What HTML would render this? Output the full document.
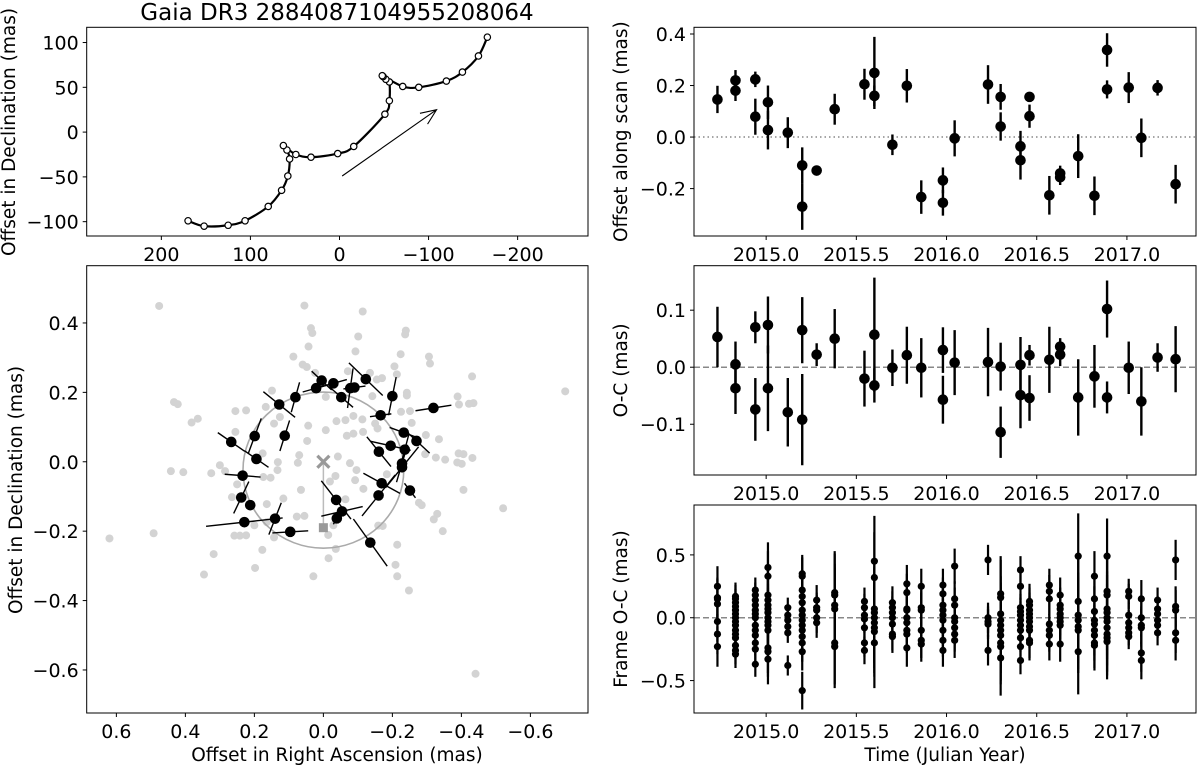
<!DOCTYPE html>
<html><head><meta charset="utf-8"><style>
html,body{margin:0;padding:0;background:#fff;}
svg{display:block;font-family:"DejaVu Sans","Liberation Sans",sans-serif;}
</style></head><body>
<svg id="fig" width="1200" height="766" viewBox="0 0 1200 766" xmlns="http://www.w3.org/2000/svg"></svg>
<script>
// ---------- data: top-left (proper motion + parallax track, mas) ----------
const trackRA  = [170,152,125,106,80,65,58,56,59,63,49,32,2,-16,-51,-56,-56,-52,-49,-48,-71,-89,-120,-138,-156,-166];
const trackDec = [-99,-105,-104,-99,-83,-65,-49,-30,-20,-15,-25,-28,-24,-16,20,35,56,59,62,63,51,50,57,67,85,106];
const arrowRA = [-3,-109];
const arrowDec = [-49,25];
const tlXTicks = [200,100,0,-100,-200];
const tlYTicks = [100,50,0,-50,-100];

// ---------- data: bottom-left (sky plane, mas) ----------
const bgRA  = [0.476,0.055,-0.114,0.036,0.032,-0.239,-0.237,-0.101,0.043,-0.093,-0.224,0.087,-0.306,-0.309,0.060,0.048,-0.206,-0.071,0.024,-0.135,-0.155,-0.170,-0.431,-0.213,0.149,-0.007,-0.142,-0.242,-0.242,-0.389,0.433,0.422,-0.393,-0.422,-0.435,0.167,0.255,0.224,-0.225,-0.251,-0.087,-0.064,-0.113,0.364,0.382,0.126,0.143,0.044,-0.038,-0.150,-0.157,-0.256,-0.007,-0.087,-0.068,-0.115,-0.297,-0.335,0.047,0.255,-0.295,-0.326,-0.353,-0.392,-0.406,-0.432,-0.388,-0.401,0.070,0.074,-0.042,-0.077,0.176,0.132,0.133,0.300,0.285,0.442,0.406,0.325,0.174,0.153,-0.096,-0.035,-0.092,-0.184,-0.019,0.065,-0.116,-0.406,0.250,0.265,0.164,0.116,-0.064,-0.277,-0.285,-0.521,0.077,0.055,-0.330,-0.320,0.200,0.164,-0.029,-0.014,-0.159,-0.172,-0.346,0.258,0.242,0.224,0.143,0.492,0.620,-0.214,-0.036,0.177,-0.015,0.318,-0.209,0.198,0.346,0.029,-0.214,-0.248,-0.441,-0.701];
const bgDec = [0.449,0.450,0.433,0.385,0.371,0.378,0.367,0.361,0.332,0.318,0.310,0.303,0.303,0.283,0.280,0.273,0.275,0.261,0.256,0.256,0.237,0.241,0.246,0.252,0.205,0.187,0.189,0.199,0.191,0.188,0.172,0.166,0.165,0.167,0.169,0.158,0.146,0.148,0.144,0.146,0.132,0.120,0.122,0.124,0.113,0.129,0.110,0.104,0.117,0.110,0.096,0.112,0.091,0.081,0.075,0.086,0.077,0.065,0.060,0.086,0.022,0.012,0.006,0.024,0.022,0.011,-0.002,-0.006,0.019,-0.003,0.015,-0.004,0.024,-0.001,-0.024,-0.010,-0.027,-0.027,-0.030,-0.033,-0.044,-0.046,-0.024,-0.041,-0.053,-0.036,-0.057,-0.081,-0.078,-0.081,-0.065,-0.102,-0.122,-0.106,-0.108,-0.118,-0.125,-0.134,-0.158,-0.156,-0.150,-0.166,-0.183,-0.174,-0.183,-0.211,-0.184,-0.185,-0.200,-0.213,-0.213,-0.212,-0.218,-0.206,-0.221,-0.239,-0.251,-0.254,-0.278,-0.266,-0.297,-0.306,-0.325,-0.330,-0.330,-0.371,-0.611,0.203];
const obsRA  = [0.267,0.194,0.199,0.234,0.238,0.212,0.229,0.140,0.096,0.128,0.112,0.081,0.021,0.005,-0.029,-0.052,-0.078,-0.090,-0.123,-0.200,-0.166,-0.319,-0.233,-0.270,-0.195,-0.161,-0.236,-0.228,-0.228,-0.251,-0.169,-0.160,-0.037,-0.054,-0.039,-0.136];
const obsDec = [0.057,0.008,0.074,-0.040,-0.103,-0.125,-0.174,-0.164,-0.202,0.165,0.075,0.186,0.212,0.234,0.226,0.186,0.212,0.214,0.238,0.189,0.134,0.155,0.084,0.060,0.046,0.029,0.035,-0.005,-0.016,-0.083,-0.062,-0.097,-0.110,-0.143,-0.163,-0.233];
const obsErrRA  = [0.039,0.035,0.019,0.052,0.022,0.010,0.111,0.018,0.052,0.046,0.014,0.012,0.039,0.029,0.039,0.034,0.008,0.032,0.049,0.011,0.031,0.052,0.041,0.038,0.058,0.035,0.012,0.016,0.048,0.016,0.053,0.048,0.043,0.060,0.010,0.049];
const obsErrDec = [0.027,0.024,-0.051,0.004,-0.046,-0.010,-0.012,-0.046,-0.003,0.037,-0.044,-0.043,-0.011,0.027,-0.011,0.029,-0.057,-0.004,0.047,-0.055,-0.004,-0.008,0.015,0.035,0.013,0.043,-0.045,-0.054,-0.059,0.021,0.029,-0.059,0.055,-0.014,-0.017,0.068];
const orbitCenter = [0.0, -0.024];
const orbitRadius = [0.233, 0.225];
const refPoint = [0.0, -0.19];
const blTicks = [0.6,0.4,0.2,0.0,-0.2,-0.4,-0.6];
const blYTicks = [0.4,0.2,0.0,-0.2,-0.4,-0.6];

// ---------- data: top-right (along-scan offsets) ----------
const scanYear = [2014.73,2014.83,2014.83,2014.94,2014.94,2015.01,2015.01,2015.12,2015.20,2015.20,2015.28,2015.38,2015.545,2015.60,2015.60,2015.70,2015.78,2015.86,2015.98,2015.98,2016.045,2016.23,2016.30,2016.30,2016.41,2016.41,2016.46,2016.46,2016.57,2016.63,2016.63,2016.73,2016.82,2016.89,2016.89,2017.01,2017.08,2017.17,2017.27];
const scanVal = [0.146,0.22,0.18,0.224,0.079,0.135,0.027,0.017,-0.11,-0.27,-0.13,0.108,0.205,0.249,0.16,-0.03,0.199,-0.233,-0.168,-0.255,-0.005,0.204,0.156,0.041,-0.036,-0.09,0.156,0.081,-0.226,-0.141,-0.156,-0.074,-0.228,0.338,0.185,0.192,-0.003,0.191,-0.183];
const scanErr = [0.053,0.04,0.04,0.03,0.07,0.065,0.075,0.06,0.07,0.09,0.015,0.06,0.06,0.14,0.04,0.04,0.065,0.065,0.05,0.05,0.07,0.075,0.05,0.055,0.06,0.075,0.015,0.045,0.075,0.03,0.03,0.085,0.075,0.065,0.035,0.06,0.075,0.03,0.075];
const yearTicks = [2015.0,2015.5,2016.0,2016.5,2017.0];
const scanYTicks = [0.4,0.2,0.0,-0.2];

// ---------- data: middle-right (O-C) ----------
const ocVal = [0.053,0.005,-0.037,0.070,-0.074,0.074,-0.037,-0.079,0.065,-0.092,0.022,0.050,-0.020,0.057,-0.032,-0.001,0.021,-0.001,0.030,-0.057,0.008,0.009,0.001,-0.114,0.004,-0.049,0.021,-0.054,0.013,0.036,0.022,-0.053,-0.016,0.102,-0.053,-0.001,-0.060,0.017,0.014];
const ocErr = [0.053,0.04,0.045,0.028,0.055,0.05,0.075,0.06,0.058,0.08,0.02,0.052,0.049,0.10,0.03,0.032,0.05,0.052,0.04,0.042,0.057,0.06,0.042,0.045,0.049,0.058,0.018,0.04,0.058,0.015,0.02,0.067,0.055,0.05,0.028,0.046,0.06,0.025,0.058];
const ocYTicks = [0.1,0.0,-0.1];

// ---------- data: bottom-right (frame O-C) ----------
const frameYear = [2014.73,2014.83,2014.94,2015.01,2015.12,2015.20,2015.28,2015.38,2015.545,2015.60,2015.70,2015.78,2015.86,2015.98,2016.045,2016.23,2016.30,2016.41,2016.46,2016.57,2016.63,2016.73,2016.82,2016.89,2017.01,2017.08,2017.17,2017.27];
const frameVals = [
 [0.25,0.16,0.15,0.11,-0.03,-0.13,-0.23],
 [0.17,0.15,0.12,0.09,0.06,0.03,0.0,-0.03,-0.06,-0.1,-0.13,-0.16,-0.22,-0.26,-0.29],
 [0.22,0.18,0.14,0.1,0.06,0.03,0.0,-0.06,-0.1,-0.14,-0.2,-0.25,-0.37],
 [0.40,0.33,0.18,0.14,0.1,0.07,0.04,0.0,-0.03,-0.06,-0.1,-0.24,-0.27,-0.33],
 [0.08,0.02,-0.02,-0.07,-0.12,-0.38],
 [0.35,0.33,0.22,0.17,0.12,0.06,0.02,-0.02,-0.06,-0.1,-0.15,-0.2,-0.27,-0.58],
 [0.14,0.08,0.06,0.0,-0.04],
 [0.2,0.18,0.1,0.07,-0.2,-0.23],
 [0.13,0.08,0.02,-0.01,-0.08,-0.2,-0.26],
 [0.45,0.32,0.07,0.04,0.0,-0.04,-0.08,-0.11,-0.2],
 [0.12,0.08,0.04,0.0,-0.05,-0.13,-0.15],
 [0.27,0.2,0.07,0.06,0.0,-0.04,-0.1,-0.13,-0.24],
 [0.25,0.08,0.06,-0.1,-0.18,-0.21],
 [0.26,0.19,0.1,0.06,0.02,-0.02,-0.1,-0.18,-0.26],
 [0.41,0.15,0.1,0.0,-0.03,-0.08,-0.13,-0.18],
 [0.46,0.0,-0.03,-0.05,-0.26],
 [0.19,0.16,0.03,-0.02,-0.06,-0.1,-0.14,-0.2,-0.23,-0.32],
 [0.38,0.25,0.08,0.05,0.02,-0.02,-0.06,-0.1,-0.16,-0.23,-0.34],
 [0.13,0.1,0.06,0.03,0.0,-0.03,-0.07,-0.1,-0.18,-0.2],
 [0.26,0.21,0.15,-0.05,-0.1,-0.14,-0.21],
 [0.18,0.1,0.07,0.03,0.0,-0.03,-0.06,-0.21],
 [0.49,0.13,0.02,-0.02,-0.07,-0.1,-0.27],
 [0.33,0.15,0.05,-0.02,-0.05,-0.1,-0.14,-0.2,-0.22],
 [0.49,0.21,0.18,0.07,0.04,0.0,-0.03,-0.08,-0.13,-0.16,-0.19],
 [0.21,0.17,0.02,-0.04,-0.08,-0.12,-0.15],
 [0.15,0.0,-0.06,-0.08,-0.28,-0.34],
 [0.14,0.07,0.03,-0.02,-0.06,-0.12],
 [0.46,0.09,0.06,-0.12,-0.18]];
const frameErr = [0.16,0.11,0.1,0.2,0.08,0.15,0.12,0.33,0.11,0.36,0.13,0.15,0.14,0.13,0.14,0.12,0.3,0.11,0.14,0.13,0.14,0.34,0.2,0.3,0.1,0.15,0.1,0.16];
const frameYTicks = [0.5,0.0,-0.5];

// ---------- helpers ----------
const NS = "http://www.w3.org/2000/svg";
const svg = document.getElementById('fig');
const TICK_FS = 19, LABEL_FS = 18.5;
function mk(tag, attrs, parent){
  const e = document.createElementNS(NS, tag);
  for (const k in attrs) e.setAttribute(k, attrs[k]);
  (parent||svg).appendChild(e);
  return e;
}
function lin(d0,d1,p0,p1){ return v => p0 + (v-d0)/(d1-d0)*(p1-p0); }
function fmt(v, dec){ const s = Math.abs(v).toFixed(dec); return (v < -1e-9 ? "\u2212" : "") + s; }

function frame(box, name){
  const r = mk('rect',{x:box.x0,y:box.y0,width:box.x1-box.x0,height:box.y1-box.y0,fill:'none',stroke:'#000','stroke-width':1});
  
  
}
function xTicks(box, sx, ticks, dec, name){
  ticks.forEach(t=>{
    const x = sx(t);
    const l = mk('line',{x1:x,x2:x,y1:box.y1,y2:box.y1+4,stroke:'#000','stroke-width':1});
    
    
    const tx = mk('text',{x:x,y:box.y1+25,'text-anchor':'middle','font-size':TICK_FS,fill:'#000'});
    tx.textContent = fmt(t, dec);
    
    
  });
}
function yTicks(box, sy, ticks, dec, name){
  ticks.forEach(t=>{
    const y = sy(t);
    const l = mk('line',{x1:box.x0-4,x2:box.x0,y1:y,y2:y,stroke:'#000','stroke-width':1});
    
    
    const tx = mk('text',{x:box.x0-8,y:y+7,'text-anchor':'end','font-size':TICK_FS,fill:'#000'});
    tx.textContent = fmt(t, dec);
    
    
  });
}
function yLabel(x, y, txt, name){
  const t = mk('text',{x:x,y:y,'text-anchor':'middle','font-size':LABEL_FS,fill:'#000',transform:`rotate(-90 ${x} ${y})`});
  t.textContent = txt;
  
  
}
function xLabel(x, y, txt, name){
  const t = mk('text',{x:x,y:y,'text-anchor':'middle','font-size':LABEL_FS,fill:'#000'});
  t.textContent = txt;
  
  
}
function catmull(pts){
  let d = `M${pts[0][0]},${pts[0][1]}`;
  for (let i=0;i<pts.length-1;i++){
    const p0 = pts[Math.max(i-1,0)], p1 = pts[i], p2 = pts[i+1], p3 = pts[Math.min(i+2,pts.length-1)];
    const c1 = [p1[0]+(p2[0]-p0[0])/6, p1[1]+(p2[1]-p0[1])/6];
    const c2 = [p2[0]-(p3[0]-p1[0])/6, p2[1]-(p3[1]-p1[1])/6];
    d += ` C${c1[0]},${c1[1]} ${c2[0]},${c2[1]} ${p2[0]},${p2[1]}`;
  }
  return d;
}

// ---------- panel boxes ----------
const TL = {x0:86.7,x1:588,y0:27.3,y1:236};
const BL = {x0:86.7,x1:588,y0:265.7,y1:713};
const TR = {x0:694,x1:1196,y0:27.3,y1:236};
const MR = {x0:694,x1:1196,y0:265.7,y1:475};
const BR = {x0:694,x1:1196,y0:505,y1:713};

// title
const title = mk('text',{x:337,y:20,'text-anchor':'middle','font-size':23,fill:'#000'});
title.textContent = 'Gaia DR3 2884087104955208064';



// ---------- top-left ----------
{
  const sx = lin(283.8,-279,TL.x0,TL.x1), sy = lin(117,-116,TL.y0,TL.y1);
  const pts = trackRA.map((v,i)=>[sx(v), sy(trackDec[i])]);
  const p = mk('path',{d:catmull(pts),fill:'none',stroke:'#000','stroke-width':2.2});
  
  
  pts.forEach(q=>{
    const c = mk('circle',{cx:q[0],cy:q[1],r:3.2,fill:'#fff',stroke:'#000','stroke-width':1.2});
    
    
  });
  const ax0=sx(arrowRA[0]), ay0=sy(arrowDec[0]), ax1=sx(arrowRA[1]), ay1=sy(arrowDec[1]);
  const ang = Math.atan2(ay1-ay0, ax1-ax0), hl = 17;
  const a = mk('path',{d:`M${ax0},${ay0} L${ax1},${ay1} M${ax1-hl*Math.cos(ang-0.4)},${ay1-hl*Math.sin(ang-0.4)} L${ax1},${ay1} L${ax1-hl*Math.cos(ang+0.4)},${ay1-hl*Math.sin(ang+0.4)}`,fill:'none',stroke:'#000','stroke-width':1.1});
  
  
  frame(TL,'track-panel');
  xTicks(TL,sx,tlXTicks,0,'track-panel');
  yTicks(TL,sy,tlYTicks,0,'track-panel');
  yLabel(15,132,'Offset in Declination (mas)','track-y-axis-title');
}

// ---------- bottom-left ----------
{
  const sx = lin(0.686,-0.767,BL.x0,BL.x1), sy = lin(0.565,-0.724,BL.y0,BL.y1);
  bgRA.forEach((v,i)=>{
    const c = mk('circle',{cx:sx(v),cy:sy(bgDec[i]),r:4,fill:'#d3d3d3'});
    
    
  });
  const e = mk('ellipse',{cx:sx(orbitCenter[0]),cy:sy(orbitCenter[1]),rx:sx(0)-sx(orbitRadius[0]),ry:sy(0)-sy(orbitRadius[1]),fill:'none',stroke:'#aaa','stroke-width':1.6});
  
  
  const ln = mk('line',{x1:sx(0),y1:sy(0),x2:sx(refPoint[0]),y2:sy(refPoint[1]),stroke:'#bbb','stroke-width':1.5});
  
  
  obsRA.forEach((v,i)=>{
    const cx=sx(v), cy=sy(obsDec[i]);
    const dx = sx(0)-sx(obsErrRA[i]), dy = sy(0)-sy(obsErrDec[i]);
    const l = mk('line',{x1:cx-dx,y1:cy-dy,x2:cx+dx,y2:cy+dy,stroke:'#000','stroke-width':1.4});
    
    
  });
  obsRA.forEach((v,i)=>{
    const c = mk('circle',{cx:sx(v),cy:sy(obsDec[i]),r:5.3,fill:'#000'});
    
    
  });
  const X0=sx(0),Y0=sy(0);
  const xm = mk('path',{d:`M${X0-6},${Y0-6} L${X0+6},${Y0+6} M${X0-6},${Y0+6} L${X0+6},${Y0-6}`,stroke:'#999','stroke-width':3.2,fill:'none'});
  
  
  const sq = mk('rect',{x:sx(refPoint[0])-4.5,y:sy(refPoint[1])-4.5,width:9,height:9,fill:'#999'});
  
  
  frame(BL,'sky-panel');
  xTicks(BL,sx,blTicks,1,'sky-panel');
  yTicks(BL,sy,blYTicks,1,'sky-panel');
  yLabel(22,490,'Offset in Declination (mas)','sky-y-axis-title');
  xLabel(337,761,'Offset in Right Ascension (mas)','sky-x-axis-title');
}

// ---------- right column ----------
const sxT = lin(2014.600,2017.383,TR.x0,TR.x1);
function errPanel(box, sy, vals, errs, yticks, dec, name, dash, label){
  const z = mk('line',{x1:box.x0,x2:box.x1,y1:sy(0),y2:sy(0),stroke:'#888','stroke-width':1.5,'stroke-dasharray':dash});
  
  
  scanYear.forEach((yr,i)=>{
    const x = sxT(yr);
    const l = mk('line',{x1:x,x2:x,y1:sy(vals[i]+errs[i]),y2:sy(vals[i]-errs[i]),stroke:'#000','stroke-width':2.4});
    
    
    const c = mk('circle',{cx:x,cy:sy(vals[i]),r:5.3,fill:'#000'});
    
    
  });
  frame(box,name);
  xTicks(box,sxT,yearTicks,1,name);
  yTicks(box,sy,yticks,dec,name);
  yLabel(627,(box.y0+box.y1)/2,label,name+'-y-axis-title');
}
errPanel(TR, lin(0.426,-0.384,TR.y0,TR.y1), scanVal, scanErr, scanYTicks, 1, 'scan-panel', '1.5,3', 'Offset along scan (mas)');
errPanel(MR, lin(0.178,-0.189,MR.y0,MR.y1), ocVal, ocErr, ocYTicks, 1, 'residual-panel', '6,3', 'O-C (mas)');

{
  const sy = lin(0.897,-0.758,BR.y0,BR.y1);
  const z = mk('line',{x1:BR.x0,x2:BR.x1,y1:sy(0),y2:sy(0),stroke:'#888','stroke-width':1.5,'stroke-dasharray':'6,3'});
  
  
  frameYear.forEach((yr,i)=>{
    const x = sxT(yr);
    frameVals[i].forEach(v=>{
      const l = mk('line',{x1:x,x2:x,y1:sy(v+frameErr[i]),y2:sy(v-frameErr[i]),stroke:'#000','stroke-width':2.2});
      
      
    });
    frameVals[i].forEach(v=>{
      const c = mk('circle',{cx:x,cy:sy(v),r:3.6,fill:'#000'});
      
      
    });
  });
  frame(BR,'frame-panel');
  xTicks(BR,sxT,yearTicks,1,'frame-panel');
  yTicks(BR,sy,frameYTicks,1,'frame-panel');
  yLabel(627,(BR.y0+BR.y1)/2,'Frame O-C (mas)','frame-panel-y-axis-title');
  xLabel(945,761,'Time (Julian Year)','time-x-axis-title');
}
</script>
</body></html>
